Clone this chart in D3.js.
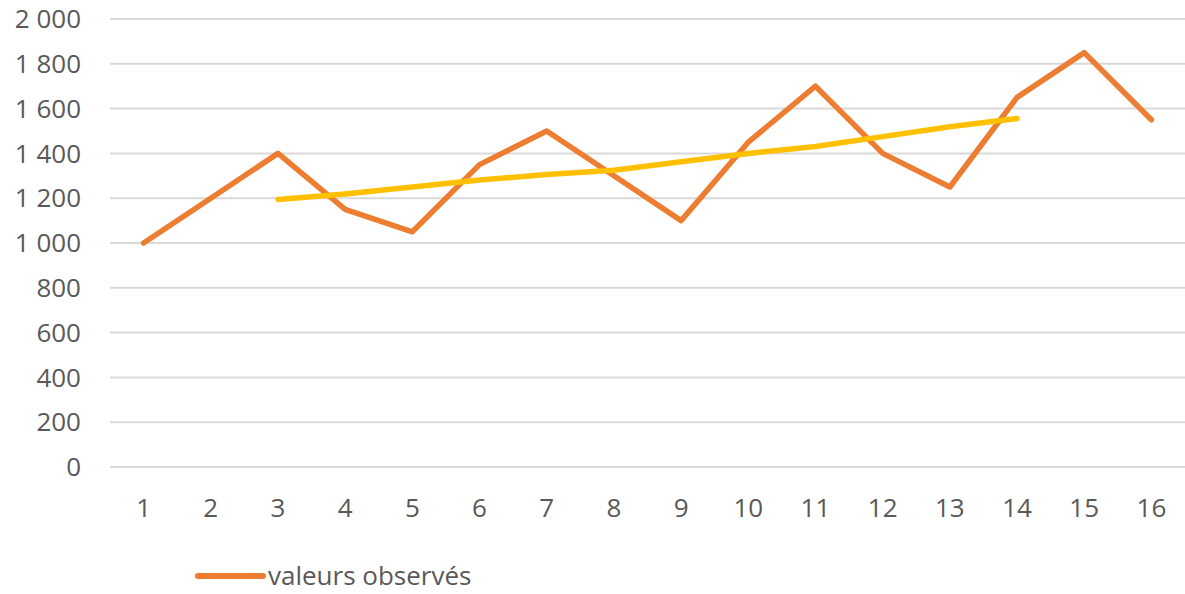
<!DOCTYPE html>
<html><head><meta charset="utf-8">
<script src="https://cdn.jsdelivr.net/npm/d3@7"></script>
<style>body{margin:0;background:#fff}svg{display:block}</style>
</head><body>
<svg id="c" width="1185" height="594"></svg>
<script>
const categories = [1,2,3,4,5,6,7,8,9,10,11,12,13,14,15,16];
const observed = [1000,1200,1400,1150,1050,1350,1500,1300,1100,1450,1700,1400,1250,1650,1850,1550];
const movingAvg = [null,null,1194,1219,1250,1281,1306,1325,1363,1400,1431,1475,1519,1556,null,null];
const yTicks = [0,200,400,600,800,1000,1200,1400,1600,1800,2000];
const seriesName = "valeurs observés";

(function(){
const svg = d3.select("#c");
const font = "'Open Sans', 'Liberation Sans', sans-serif";
const fs = "26px";
const pL = 110, pR = 1185, pT = 19, pB = 467;
const x = d3.scaleBand().domain(categories).range([pL, pR]);
const y = d3.scaleLinear().domain([0,2000]).range([pB, pT]);
const fmt = v => d3.format(",")(v).replace(/,/g, " ");

svg.append("g").selectAll("line").data(yTicks).join("line")
  .attr("x1", pL).attr("x2", pR)
  .attr("y1", d=>y(d)).attr("y2", d=>y(d))
  .attr("stroke", "#d9d9d9").attr("stroke-width", 2);

svg.append("g").selectAll("text").data(yTicks).join("text")
  .attr("x", 81).attr("y", d=>y(d)).attr("dy", "0.35em")
  .attr("text-anchor", "end").attr("fill", "#595959")
  .style("font-family", font).style("font-size", fs)
  .text(fmt);

svg.append("g").selectAll("text").data(categories).join("text")
  .attr("x", d=>x(d)+x.bandwidth()/2).attr("y", 508).attr("dy", "0.35em")
  .attr("text-anchor", "middle").attr("fill", "#595959")
  .style("font-family", font).style("font-size", fs)
  .text(d=>d);

const cx = d => x(d)+x.bandwidth()/2;
const line = d3.line().defined(d=>d[1]!=null).x(d=>cx(d[0])).y(d=>y(d[1]));

svg.append("path").datum(categories.map((c,i)=>[c,observed[i]]))
  .attr("d", line).attr("fill","none").attr("stroke","#ED7D31")
  .attr("stroke-width", 5.5).attr("stroke-linejoin","round").attr("stroke-linecap","round");

svg.append("path").datum(categories.map((c,i)=>[c,movingAvg[i]]))
  .attr("d", line).attr("fill","none").attr("stroke","#FFC000")
  .attr("stroke-width", 5.5).attr("stroke-linejoin","round").attr("stroke-linecap","round");

svg.append("line").attr("x1",198).attr("x2",263).attr("y1",576).attr("y2",576)
  .attr("stroke","#ED7D31").attr("stroke-width",6).attr("stroke-linecap","round");
svg.append("text").attr("x",268).attr("y",576).attr("dy","0.35em")
  .attr("fill","#595959").style("font-family",font).style("font-size",fs)
  .text(seriesName);
})();
</script>
</body></html>
